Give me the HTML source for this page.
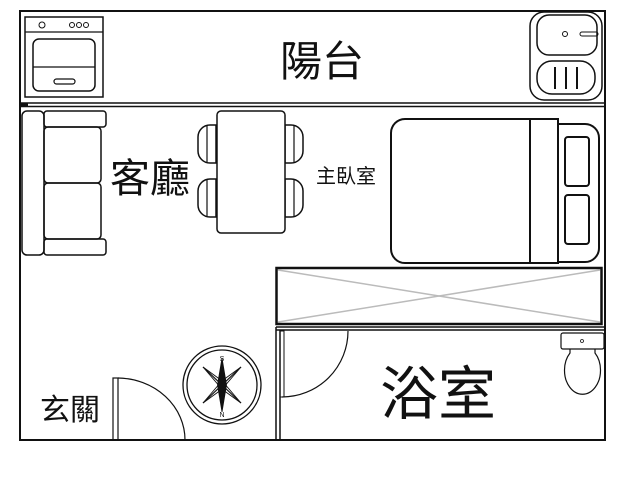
<!DOCTYPE html>
<html><head><meta charset="utf-8"><style>
html,body{margin:0;padding:0;background:#fff;}
svg{display:block}
text{font-family:"Liberation Sans","Noto Sans CJK TC",sans-serif;fill:#111}
</style></head><body>
<svg width="640" height="480" viewBox="0 0 640 480" xmlns="http://www.w3.org/2000/svg" fill="none" stroke="#111">
<rect x="20" y="11" width="585" height="429" stroke-width="2"/>
<line x1="20" y1="103" x2="605" y2="103" stroke-width="1.5"/>
<line x1="20" y1="106.5" x2="605" y2="106.5" stroke-width="1.5"/>
<rect x="20" y="103" width="8" height="3.5" fill="#111" stroke="none"/>
<rect x="25" y="17" width="78" height="80" stroke-width="1.5"/>
<line x1="25" y1="32" x2="103" y2="32" stroke-width="1.2"/>
<circle cx="42" cy="25" r="3" stroke-width="1"/>
<circle cx="72" cy="25" r="2.5" stroke-width="1"/>
<circle cx="79" cy="25" r="2.5" stroke-width="1"/>
<circle cx="86" cy="25" r="2.5" stroke-width="1"/>
<rect x="33" y="39" width="62" height="52" rx="6" stroke-width="1.5"/>
<line x1="33" y1="67" x2="95" y2="67" stroke-width="1.2"/>
<rect x="54" y="79" width="21" height="5" rx="2.5" stroke-width="1.2"/>
<rect x="530" y="12" width="72" height="88" rx="14" stroke-width="1.5"/>
<rect x="537" y="15" width="60" height="40" rx="12" stroke-width="1.5"/>
<rect x="537" y="61" width="58" height="33" rx="15" stroke-width="1.5"/>
<circle cx="565" cy="34" r="2.5" stroke-width="1"/>
<rect x="580" y="32" width="18" height="4" rx="2" stroke-width="1"/>
<line x1="555" y1="67" x2="555" y2="89" stroke-width="2"/>
<line x1="566" y1="67" x2="566" y2="89" stroke-width="2"/>
<line x1="577" y1="67" x2="577" y2="89" stroke-width="2"/>
<rect x="22" y="111" width="22" height="144" rx="5" stroke-width="1.5"/>
<rect x="44" y="111" width="62" height="16" rx="3" stroke-width="1.5"/>
<rect x="44" y="239" width="62" height="16" rx="3" stroke-width="1.5"/>
<rect x="44" y="127" width="57" height="56" rx="4" stroke-width="1.5"/>
<rect x="44" y="183" width="57" height="56" rx="4" stroke-width="1.5"/>
<path d="M216 125 h-6 a12 12 0 0 0 -12 12 v14 a12 12 0 0 0 12 12 h6 z" stroke-width="1.5"/>
<line x1="207" y1="125" x2="207" y2="163" stroke-width="1.2"/>
<path d="M216 179 h-6 a12 12 0 0 0 -12 12 v14 a12 12 0 0 0 12 12 h6 z" stroke-width="1.5"/>
<line x1="207" y1="179" x2="207" y2="217" stroke-width="1.2"/>
<path d="M285 125 h6 a12 12 0 0 1 12 12 v14 a12 12 0 0 1 -12 12 h-6 z" stroke-width="1.5"/>
<line x1="294" y1="125" x2="294" y2="163" stroke-width="1.2"/>
<path d="M285 179 h6 a12 12 0 0 1 12 12 v14 a12 12 0 0 1 -12 12 h-6 z" stroke-width="1.5"/>
<line x1="294" y1="179" x2="294" y2="217" stroke-width="1.2"/>
<rect x="217" y="111" width="68" height="122" rx="4" fill="#fff" stroke-width="1.5"/>
<path d="M558 124 h27 a14 14 0 0 1 14 14 v110 a14 14 0 0 1 -14 14 h-27" stroke-width="2"/>
<rect x="391" y="119" width="167" height="144" rx="14" stroke-width="2"/>
<rect x="530" y="119" width="28" height="144" fill="#fff" stroke-width="2"/>
<line x1="391" y1="133" x2="391" y2="249" stroke-width="2"/>
<rect x="565" y="137" width="24" height="49" rx="3" stroke-width="2"/>
<rect x="565" y="195" width="24" height="49" rx="3" stroke-width="2"/>
<line x1="278" y1="270" x2="600" y2="322" stroke="#bbb" stroke-width="1.5"/>
<line x1="278" y1="322" x2="600" y2="270" stroke="#bbb" stroke-width="1.5"/>
<rect x="276.5" y="268" width="325" height="56" stroke-width="2.5"/>
<line x1="276" y1="327" x2="605" y2="327" stroke-width="1.5"/>
<line x1="276" y1="330" x2="605" y2="330" stroke-width="1.5"/>
<line x1="276" y1="327" x2="276" y2="440" stroke-width="1.5"/>
<line x1="280" y1="330" x2="280" y2="440" stroke-width="1.5"/>
<rect x="280" y="331" width="4" height="66" stroke-width="1"/>
<path d="M282 397 A66 66 0 0 0 348 331" stroke-width="1.2"/>
<rect x="561" y="333" width="43" height="16" rx="2" stroke-width="1.2"/>
<circle cx="582" cy="341" r="1.5" stroke-width="0.8"/>
<path d="M570 349 v4 a18 24 0 1 0 25 0 v-4" stroke-width="1.2"/>
<rect x="113" y="378" width="5" height="62" stroke-width="1.2"/>
<path d="M118 378 A68 62 0 0 1 185 440" stroke-width="1.2"/>
<circle cx="222" cy="385" r="39" stroke-width="1.3"/>
<circle cx="222" cy="385" r="35" stroke-width="1.3"/>
<path d="M203 367 L241 403 M241 367 L203 403" stroke-width="1.2"/>
<path d="M203 367 L225 383 L221 388 Z M241 403 L219 387 L223 382 Z M241 367 L219 383 L223 388 Z M203 403 L225 387 L221 382Z" stroke-width="0.9"/>
<path d="M222 358 L226.5 385 L222 412 L217.5 385 Z" fill="#111" stroke-width="0.8"/>
<text x="222" y="361" font-size="7" text-anchor="middle" stroke="none">S</text>
<text x="222" y="417" font-size="7" text-anchor="middle" stroke="none">N</text>
<text x="322" y="76" font-size="42" text-anchor="middle" stroke="none">陽台</text>
<text x="150" y="192" font-size="40" text-anchor="middle" stroke="none">客廳</text>
<text x="346" y="183" font-size="20" text-anchor="middle" stroke="none">主臥室</text>
<text x="438" y="414" font-size="58" text-anchor="middle" stroke="none">浴室</text>
<text x="70" y="420" font-size="30" text-anchor="middle" stroke="none">玄關</text>
</svg>
</body></html>
